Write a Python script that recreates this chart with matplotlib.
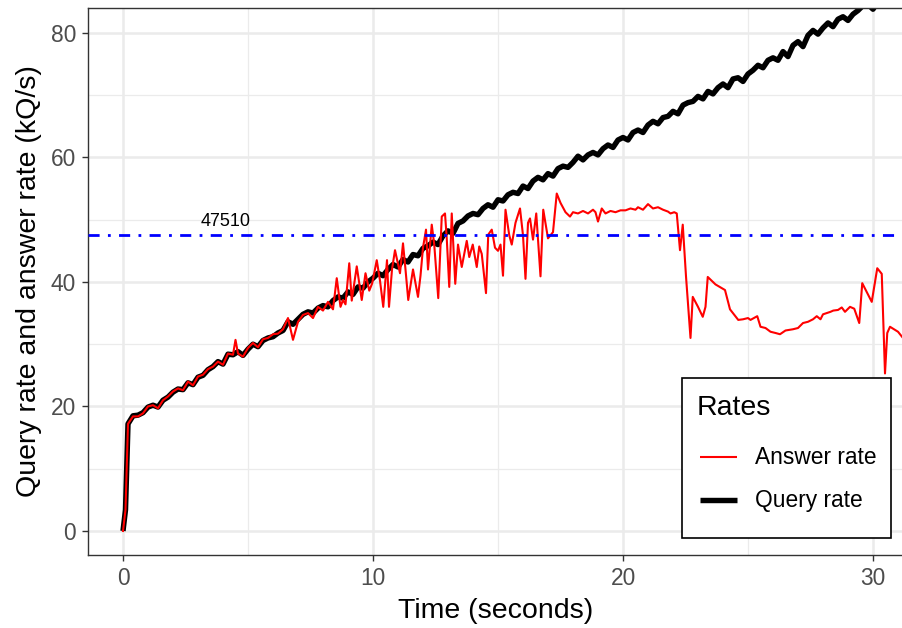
import numpy as np
import matplotlib
matplotlib.use("Agg")
import matplotlib.pyplot as plt
from matplotlib.ticker import MultipleLocator
from matplotlib.patches import Rectangle
from matplotlib.lines import Line2D

plt.rcParams["font.family"] = ["Liberation Sans", "DejaVu Sans"]

# Query rate (kQ/s), sampled every 0.2 s after the first 0.1 s
query_time = np.r_[0.0, 0.1, np.arange(1, 157) * 0.2]
query_rate = [
    0.0, 3.4, 17.2, 18.5, 18.6, 19.0, 19.9, 20.2, 19.9, 21.0, 21.5,
    22.3, 22.8, 22.7, 23.8, 23.5, 24.7, 25.0, 25.9, 26.4, 27.2,
    26.8, 28.4, 28.3, 28.8, 28.2, 29.2, 30.0, 29.6, 30.6, 31.0,
    31.2, 31.8, 32.2, 33.6, 33.2, 34.0, 34.8, 35.2, 35.0, 35.8,
    36.2, 36.0, 37.0, 37.6, 37.4, 38.4, 38.0, 39.2, 39.0, 40.0,
    40.6, 41.4, 41.0, 42.0, 42.8, 42.4, 43.6, 43.2, 44.4, 44.2,
    45.4, 45.8, 46.4, 46.0, 47.4, 48.2, 47.8, 49.4, 49.8, 50.6,
    51.0, 50.8, 51.8, 52.4, 52.0, 53.2, 53.0, 54.0, 54.4, 54.2,
    55.4, 55.0, 56.2, 56.8, 56.4, 57.4, 57.0, 58.2, 58.6, 58.4,
    59.2, 60.2, 59.6, 60.4, 60.8, 60.4, 61.4, 62.0, 61.6, 62.8,
    63.2, 62.8, 64.0, 64.4, 64.0, 65.2, 65.8, 65.4, 66.4, 66.6,
    67.4, 67.0, 68.4, 68.8, 69.0, 69.8, 69.4, 70.6, 70.2, 71.2,
    71.8, 71.2, 72.6, 72.8, 72.2, 73.4, 74.0, 74.8, 74.4, 75.6,
    76.0, 75.6, 77.0, 76.2, 78.0, 78.6, 77.8, 79.6, 80.4, 79.8,
    80.8, 81.6, 81.0, 82.2, 82.6, 82.0, 83.0, 83.6, 84.4, 84.6,
    83.8, 85.0, 85.6, 86.2, 86.6, 87.2, 87.6,
]

# Answer rate (kQ/s)
answer_time = [
    0.0, 0.1, 0.2, 0.4, 0.6, 0.8, 1.0, 1.2, 1.4, 1.6, 1.8,
    2.0, 2.2, 2.4, 2.6, 2.8, 3.0, 3.2, 3.4, 3.6, 3.8,
    4.0, 4.2, 4.4, 4.5, 4.6, 4.8, 5.0, 5.2, 5.4, 5.6, 5.8,
    6.0, 6.2, 6.4, 6.6, 6.8, 7.0, 7.2, 7.4, 7.6, 7.8,
    8.0, 8.2, 8.4, 8.55, 8.7, 8.8, 8.9, 9.05, 9.15, 9.35, 9.55, 9.7, 9.85, 9.97,
    10.15, 10.28, 10.41, 10.56, 10.64, 10.76, 10.88, 11.08, 11.2, 11.3, 11.41,
    11.6, 11.8, 11.9, 12.0, 12.12, 12.2, 12.35, 12.45, 12.61, 12.75, 12.88, 12.95,
    13.05, 13.15, 13.29, 13.4, 13.55, 13.75, 13.85, 13.99, 14.15, 14.25, 14.35,
    14.52, 14.61, 14.75, 14.88, 15.0, 15.1, 15.2, 15.3, 15.45, 15.55, 15.7, 15.88,
    16.0, 16.1, 16.2, 16.28, 16.4, 16.53, 16.7, 16.81, 17.0, 17.2, 17.35, 17.5,
    17.7, 17.88, 18.0, 18.2, 18.4, 18.6, 18.8, 18.9, 19.0, 19.15, 19.3, 19.5,
    19.7, 19.9, 20.1, 20.3, 20.5, 20.6, 20.8, 21.0, 21.2, 21.4, 21.6, 21.8, 21.9,
    22.05, 22.15, 22.28, 22.39, 22.52, 22.7, 22.79, 23.0, 23.19, 23.3, 23.39,
    23.7, 24.08, 24.28, 24.61, 24.8, 25.0, 25.1, 25.37, 25.5, 25.7, 25.9, 26.1,
    26.28, 26.5, 26.8, 27.0, 27.2, 27.4, 27.6, 27.75, 27.9, 28.0, 28.15, 28.3,
    28.41, 28.6, 28.75, 28.88, 29.08, 29.25, 29.45, 29.57, 29.95, 30.17, 30.35,
    30.48, 30.57, 30.68, 31.0, 31.2,
]
answer_rate = [
    0.0, 3.4, 17.2, 18.4, 18.4, 18.9, 20.0, 20.2, 19.7, 21.0, 21.6,
    22.4, 22.9, 22.6, 24.0, 23.4, 24.8, 25.1, 26.0, 26.4, 27.2,
    26.7, 28.5, 28.3, 30.7, 28.5, 28.0, 29.4, 30.2, 29.5, 30.8, 31.0,
    31.6, 31.7, 32.4, 34.2, 30.7, 33.6, 34.7, 35.0, 34.2, 36.0,
    35.4, 36.8, 35.6, 40.6, 36.0, 37.1, 36.4, 43.0, 37.0, 42.5, 37.1, 41.4, 38.6, 39.8,
    43.5, 40.2, 36.0, 43.5, 36.0, 42.0, 45.1, 41.4, 46.2, 42.0, 37.1,
    42.0, 37.6, 41.0, 45.5, 48.4, 42.0, 49.2, 46.0, 37.4, 50.5, 51.0, 47.0,
    39.2, 51.0, 39.7, 46.0, 42.4, 46.6, 44.0, 46.0, 42.4, 45.7, 44.5,
    38.2, 47.6, 48.4, 45.5, 45.0, 46.0, 41.0, 51.6, 47.5, 46.0, 49.5, 51.8,
    47.5, 40.5, 49.5, 50.2, 46.8, 51.0, 40.9, 51.6, 47.0, 48.0, 54.2, 52.7,
    51.2, 50.5, 51.2, 51.0, 51.4, 51.0, 51.6, 51.2, 49.7, 51.8, 51.0, 51.4,
    51.2, 51.5, 51.5, 51.8, 51.6, 52.0, 51.6, 52.5, 51.8, 52.0, 51.6, 51.3, 51.0,
    51.2, 51.0, 45.1, 49.2, 40.9, 31.0, 37.6, 36.0, 34.4, 36.0, 40.8,
    39.6, 38.7, 35.6, 33.9, 34.0, 34.2, 33.9, 34.5, 32.8, 32.6, 32.0, 31.8,
    31.6, 32.2, 32.4, 32.6, 33.4, 33.6, 34.0, 34.5, 34.0, 34.8, 35.0, 35.2,
    35.4, 35.5, 35.9, 35.2, 36.0, 35.7, 33.4, 39.8, 36.8, 42.2, 41.3,
    25.3, 31.8, 32.8, 32.0, 31.0,
]

capacity = 47.51          # measured ceiling, kQ/s
capacity_label = "47510"

W, H = 902, 628
fig = plt.figure(figsize=(W / 100, H / 100), dpi=100)
left, right, top, bottom = 88, 903, 8, 555
ax = fig.add_axes([left / W, 1 - bottom / H, (right - left) / W, (bottom - top) / H])


def fx(px):
    return px / W


def fy(py):
    return 1 - py / H


grid_col = "#EBEBEB"
ax.set_facecolor("white")
ax.set_xlim(-1.4, 31.2)
ax.set_ylim(-3.86, 84.0)
ax.xaxis.set_major_locator(MultipleLocator(10))
ax.xaxis.set_minor_locator(MultipleLocator(5))
ax.yaxis.set_major_locator(MultipleLocator(20))
ax.yaxis.set_minor_locator(MultipleLocator(10))
ax.grid(which="major", color=grid_col, linewidth=1.8, zorder=0)
ax.grid(which="minor", color=grid_col, linewidth=0.9, zorder=0)
ax.set_axisbelow(True)

for s in ax.spines.values():
    s.set_color("#333333")
    s.set_linewidth(1.0)

tick_fs = 16.4
title_fs = 20.5
ax.tick_params(which="major", length=4, width=1.0, color="#333333",
               labelcolor="#4D4D4D", labelsize=tick_fs, pad=4.5)
ax.tick_params(which="minor", length=0)

q_line, = ax.plot(query_time, query_rate, color="black", linewidth=3.9,
                  solid_capstyle="butt", solid_joinstyle="round", zorder=2,
                  label="Query rate")
a_line, = ax.plot(answer_time, answer_rate, color="red", linewidth=1.5,
                  solid_joinstyle="round", zorder=3, label="Answer rate")

ax.axhline(capacity, color="blue", linewidth=2.0, linestyle=(0, (4, 3, 1, 3)),
           zorder=4)
ax.text(4.1, 49.7, capacity_label, fontsize=13, color="black",
        ha="center", va="center", zorder=5)

ax.set_xlabel("Time (seconds)", fontsize=title_fs, labelpad=6)
ax.set_ylabel("Query rate and answer rate (kQ/s)", fontsize=title_fs, labelpad=6)

# Legend box drawn in figure pixel space
fig.add_artist(Rectangle((fx(682), fy(538)), fx(891) - fx(682), fy(378) - fy(538),
                         transform=fig.transFigure, facecolor="white",
                         edgecolor="black", linewidth=1.2, zorder=10))
fig.text(fx(697), fy(408), "Rates", fontsize=title_fs, ha="left", va="center",
         zorder=11)
for line, ky in ((a_line, 457), (q_line, 500)):
    fig.add_artist(Line2D([fx(700), fx(737)], [fy(ky), fy(ky)],
                          transform=fig.transFigure, color=line.get_color(),
                          linewidth=line.get_linewidth(), solid_capstyle="butt",
                          zorder=11))
    fig.text(fx(755), fy(ky), line.get_label(), fontsize=tick_fs,
             ha="left", va="center", zorder=11)

fig.savefig("out.png", dpi=100)
